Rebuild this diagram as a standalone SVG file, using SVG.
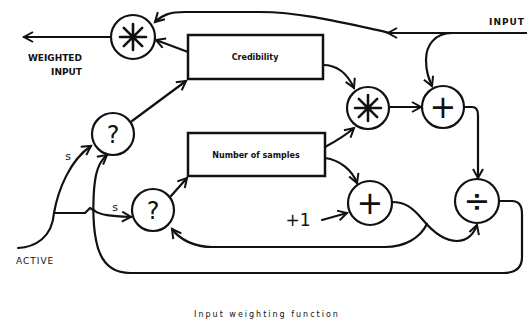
<svg xmlns="http://www.w3.org/2000/svg" width="527" height="322" viewBox="0 0 527 322">
<defs>
<marker id="ah" markerUnits="userSpaceOnUse" markerWidth="14" markerHeight="14" refX="10" refY="6" orient="auto">
<path d="M1,1 L10,6 L1,11" fill="none" stroke="#111" stroke-width="2"/>
</marker>
<g id="star">
<path d="M0,-13 L0,13 M-13,0 L13,0 M-9.2,-9.2 L9.2,9.2 M-9.2,9.2 L9.2,-9.2" stroke="#111" stroke-width="2.6" stroke-linecap="round" fill="none"/>
</g>
<style>
.ln{fill:none;stroke:#111;stroke-width:2.2;stroke-linecap:round;stroke-linejoin:round}
.arr{marker-end:url(#ah)}
.op{fill:#fff;stroke:#111;stroke-width:2.2}
.box{fill:#fff;stroke:#111;stroke-width:2.5}
.lbl{font-family:"DejaVu Sans",sans-serif;font-weight:bold;fill:#111}
.sym{font-family:"DejaVu Sans",sans-serif;fill:#111;text-anchor:middle}
.boxt{font-family:"DejaVu Sans",sans-serif;font-size:8px;fill:#111;text-anchor:middle;font-weight:bold}
</style>
</defs>
<rect width="527" height="322" fill="#fff"/>
<g id="connectors">
<path class="ln arr" d="M111,37 L24,37"/>
<path class="ln arr" d="M527,33 L388,33"/>
<path class="ln arr" d="M390,33 C340,22 300,12 260,12 L185,12 C170,12 162,15 155,22"/>
<path class="ln arr" d="M452,33 C435,33 426,45 426,60 C426,72 429,79 432,86"/>
<path class="ln arr" d="M188,52 L156,40"/>
<path class="ln arr" d="M132,121 L186,81"/>
<path class="ln arr" d="M323,65 C338,65 348,75 354,88"/>
<path class="ln arr" d="M325,147 C338,140 346,135 354,128"/>
<path class="ln arr" d="M390,107 L421,107"/>
<path class="ln arr" d="M465,107 L472,107 C476,107 478,110 478,115 L478,178"/>
<path class="ln arr" d="M325,158 C340,160 352,170 357,183"/>
<path class="ln arr" d="M322,220 L347,213"/>
<path class="ln arr" d="M392,202 C405,202 412,207 423,220 C433,232 445,241 457,241 C467,241 474,234 477,225"/>
<path class="ln arr" d="M427,224 C420,238 405,247 385,247 L212,247 C195,247 180,240 172,229"/>
<path class="ln arr" d="M499,201 L512,201 C519,201 522,206 522,214 L522,257 C522,268 515,273 503,273 L130,273 C112,273 100,262 96,240 C92,220 93,190 96,175 C98,166 102,159 107,155"/>
<path class="ln" d="M18,248 C35,247 52,238 54,213"/>
<path class="ln arr" d="M54,213 C58,190 70,160 91,146"/>
<path class="ln arr" d="M54,213 L85,213 L90,208 L95,211 C100,215 110,216 131,217"/>
<path class="ln arr" d="M171,196 L187,178"/>
</g>
<g id="mulOut">
<circle class="op" cx="133" cy="37" r="22"/>
<use href="#star" x="133" y="37"/>
</g>
<g id="credibility">
<rect class="box" x="188" y="35" width="135" height="44"/>
<text class="boxt" x="255" y="60">Credibility</text>
</g>
<g id="numSamples">
<rect class="box" x="188" y="133" width="137" height="43"/>
<text class="boxt" x="256" y="158">Number of samples</text>
</g>
<g id="mulMid">
<circle class="op" cx="368" cy="108" r="21"/>
<use href="#star" x="368" y="108"/>
</g>
<g id="plusTop">
<circle class="op" cx="443" cy="107" r="21"/>
<text class="sym" x="443" y="118" font-size="32">+</text>
</g>
<g id="divide">
<circle class="op" cx="477" cy="201" r="22"/>
<text class="sym" x="477" y="212" font-size="32">÷</text>
</g>
<g id="plusBot">
<circle class="op" cx="370" cy="203" r="22"/>
<text class="sym" x="370" y="214" font-size="32">+</text>
</g>
<g id="qTop">
<circle class="op" cx="113" cy="134" r="21"/>
<text class="sym" x="113" y="143" font-size="24">?</text>
</g>
<g id="qBot">
<circle class="op" cx="153" cy="210" r="21"/>
<text class="sym" x="153" y="219" font-size="24">?</text>
</g>
<g id="labels">
<text class="lbl" x="82" y="61" font-size="9" text-anchor="end">WEIGHTED</text>
<text class="lbl" x="82" y="75" font-size="9" text-anchor="end">INPUT</text>
<text class="lbl" x="525" y="25" font-size="9" text-anchor="end" letter-spacing="1">INPUT</text>
<text class="lbl" x="16" y="264" font-size="9" letter-spacing="1" style="font-weight:normal">ACTIVE</text>
<text class="sym" x="68" y="160" font-size="11">s</text>
<text class="sym" x="115" y="211" font-size="11">s</text>
<text class="sym" x="298" y="226" font-size="17">+1</text>
<text class="sym" x="267" y="317" font-size="8" letter-spacing="2">Input weighting function</text>
</g>
</svg>
